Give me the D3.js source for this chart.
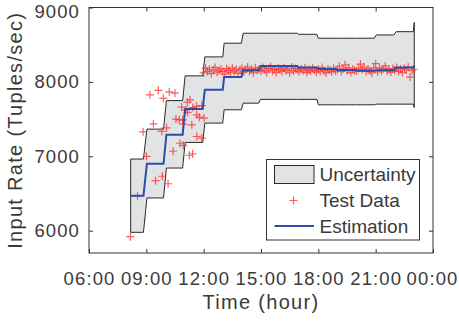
<!DOCTYPE html>
<html>
<head>
<meta charset="utf-8">
<script src="https://cdn.jsdelivr.net/npm/d3@7"></script>
<style>
  body { margin: 0; background: #fff; }
  text { font-family: "Liberation Sans", Arial, sans-serif; fill: #3a3a3a; }
</style>
</head>
<body>
<script>
// hourly segments of the estimate (start / end time in hours)
const segStart = [8.18, 9.03, 10.05, 11.03, 12.06, 13.07, 14.07, 14.97, 16.0, 16.97, 18.0, 19.0, 20.0, 21.03, 22.07];
const segEnd   = [8.85, 9.9, 10.9, 11.95, 13.0, 13.97, 14.88, 15.93, 16.9, 17.93, 18.93, 19.93, 20.93, 21.95, 22.97];
const estimation = [6470, 6900, 7290, 7635, 7895, 8065, 8157, 8215, 8215, 8195, 8172, 8160, 8150, 8155, 8192];
const upperBound = [6963, 7365, 7749, 8081, 8336, 8520, 8654, 8654, 8654, 8640, 8587, 8587, 8587, 8631, 8675];
const lowerBound = [5978, 6440, 6842, 7186, 7446, 7625, 7714, 7765, 7765, 7765, 7692, 7692, 7692, 7701, 7701];
// last sample
const tailTime = 23.02, tailEst = 8222, tailUpper = 8800, tailLower = 7655;

// test data, sparse morning part
const testTimeA = [8.17, 8.54, 8.83, 9.01, 9.19, 9.37, 9.48, 9.63, 9.81, 9.84, 9.89, 10.06, 10.14, 10.2, 10.4,
  10.5, 10.55, 10.73, 10.76, 10.85, 10.9, 10.94, 10.94, 11.08, 11.15, 11.16, 11.25, 11.29, 11.38, 11.42, 11.43,
  11.63, 11.64, 11.64, 11.77, 11.9, 11.9, 12.02];
const testValA = [5920, 6464, 7329, 7000, 7826, 7437, 6672, 7886, 7336, 6732, 7779, 7383, 6631, 7866, 7068,
  7849, 7500, 7490, 7175, 7661, 7490, 7148, 7433, 7624, 7728, 7591, 7014, 7759, 7423, 7034, 7655,
  7671, 7266, 7557, 7526, 7245, 7682, 7513];
// test data, dense part (every 0.1 h from 12:00)
const testTimeB = d3.range(111).map(i => 12 + i * 0.1);
const testValB = [
  8120, 8185, 8140, 8170, 8110, 8160, 8195, 8130, 8150, 8175,
  8140, 8105, 8180, 8155, 8125, 8190, 8145, 8170, 8115, 8160,
  8185, 8135, 8165, 8200, 8140, 8175, 8120, 8190, 8155, 8170,
  8145, 8195, 8160, 8130, 8180, 8205, 8150, 8170, 8125, 8185,
  8165, 8140, 8190, 8155, 8175, 8120, 8200, 8145, 8180, 8160,
  8135, 8175, 8150, 8190, 8125, 8165, 8145, 8185, 8155, 8130,
  8170, 8140, 8195, 8150, 8120, 8175, 8160, 8135, 8185, 8145,
  8165, 8210, 8140, 8175, 8230, 8150, 8190, 8125, 8170, 8155,
  8145, 8180, 8240, 8165, 8200, 8140, 8175, 8150, 8120, 8185,
  8245, 8135, 8190, 8150, 8175, 8215, 8145, 8170, 8130, 8180,
  8155, 8195, 8140, 8175, 8125, 8185, 8160, 8200, 8065, 8150,
  8170];

const xTicks = [6, 9, 12, 15, 18, 21, 24];
const xTickLabels = ["06:00", "09:00", "12:00", "15:00", "18:00", "21:00", "00:00"];
const yTicks = [6000, 7000, 8000, 9000];
const legendLabels = ["Uncertainty", "Test Data", "Estimation"];

const W = 459, H = 326;
const margin = {top: 7.5, left: 89, right: 26, bot: 73};

const svg = d3.select("body").append("svg")
  .attr("width", W)
  .attr("height", H);

const x = d3.scaleLinear().domain([6, 24]).range([margin.left, W - margin.right]);
const y = d3.scaleLinear().domain([5700, 9000]).range([H - margin.bot, margin.top]);

// step table
let steps = [];
segStart.forEach((s, i) => {
  steps.push({t: s, est: estimation[i], hi: upperBound[i], lo: lowerBound[i]});
  steps.push({t: segEnd[i], est: estimation[i], hi: upperBound[i], lo: lowerBound[i]});
});
steps.push({t: tailTime, est: tailEst, hi: tailUpper, lo: tailLower});

// uncertainty band
svg.append("path")
  .datum(steps)
  .attr("d", d3.area().x(d => x(d.t)).y0(d => y(d.lo)).y1(d => y(d.hi)))
  .attr("fill", "#e2e3e5")
  .attr("stroke", "#2a2a2a")
  .attr("stroke-width", 1);

// test data
const testData = testTimeA.map((t, i) => ({t: t, v: testValA[i]}))
  .concat(testTimeB.map((t, i) => ({t: t, v: testValB[i]})));

const cross = "M-4,0H4M0,-4V4";
svg.append("g")
  .selectAll("path")
  .data(testData)
  .enter()
  .append("path")
  .attr("d", cross)
  .attr("transform", d => `translate(${x(d.t)},${y(d.v)})`)
  .attr("stroke", "#ff2a2a")
  .attr("stroke-opacity", 0.75)
  .attr("stroke-width", 1.2)
  .attr("fill", "none");

// estimation
svg.append("path")
  .datum(steps)
  .attr("d", d3.line().x(d => x(d.t)).y(d => y(d.est)))
  .attr("fill", "none")
  .attr("stroke", "#2b4ea6")
  .attr("stroke-width", 2);

// axes (box with ticks on all four sides)
const x0 = x.range()[0], x1 = x.range()[1], y0 = y.range()[0], y1 = y.range()[1];
svg.append("rect")
  .attr("x", x0).attr("y", y1)
  .attr("width", x1 - x0).attr("height", y0 - y1)
  .attr("fill", "none")
  .attr("stroke", "#333")
  .attr("stroke-width", 1);

const xAxisG = svg.append("g")
  .attr("transform", `translate(0,${y0})`)
  .call(d3.axisBottom(x).tickValues(xTicks).tickSize(-4).tickPadding(19)
    .tickFormat((d, i) => xTickLabels[i]))
  .call(g => g.select(".domain").remove());
svg.append("g")
  .attr("transform", `translate(0,${y1})`)
  .call(d3.axisTop(x).tickValues(xTicks.slice(1, -1)).tickSize(-4).tickFormat(""))
  .call(g => g.select(".domain").remove());
const yAxisG = svg.append("g")
  .attr("transform", `translate(${x0},0)`)
  .call(d3.axisLeft(y).tickValues(yTicks).tickSize(-4).tickPadding(9).tickFormat(d3.format("d")))
  .call(g => g.select(".domain").remove());
svg.append("g")
  .attr("transform", `translate(${x1},0)`)
  .call(d3.axisRight(y).tickValues(yTicks.slice(0, -1)).tickSize(-4).tickFormat(""))
  .call(g => g.select(".domain").remove());

svg.selectAll(".tick line").attr("stroke", "#333");
svg.selectAll(".tick text")
  .style("font-size", "18.5px")
  .style("letter-spacing", "1.1px")
  .attr("fill", "#3a3a3a")
  .style("font-family", "'Liberation Sans', Arial, sans-serif");
// end labels kept inside the figure, as in the original
yAxisG.selectAll(".tick text").filter(d => d === 9000).attr("dy", "0.55em");
xAxisG.selectAll(".tick text").filter(d => d === 24).attr("dx", -1);

// axis titles
svg.append("text")
  .attr("x", (x0 + x1) / 2)
  .attr("y", 309)
  .attr("text-anchor", "middle")
  .style("font-size", "20px")
  .style("letter-spacing", "1.3px")
  .text("Time (hour)");

svg.append("text")
  .attr("transform", `translate(22,${(y0 + y1) / 2}) rotate(-90)`)
  .attr("text-anchor", "middle")
  .style("font-size", "20px")
  .style("letter-spacing", "1.3px")
  .text("Input Rate (Tuples/sec)");

// legend
const lg = svg.append("g").attr("transform", "translate(266.5,159.5)");
lg.append("rect")
  .attr("width", 153).attr("height", 80.5)
  .attr("fill", "#fff")
  .attr("stroke", "#333");
lg.append("rect")
  .attr("x", 8).attr("y", 6)
  .attr("width", 39.5).attr("height", 18)
  .attr("fill", "#e2e3e5")
  .attr("stroke", "#2a2a2a");
lg.append("path")
  .attr("d", cross)
  .attr("transform", "translate(27,41)")
  .attr("stroke", "#ff2a2a")
  .attr("stroke-opacity", 0.75)
  .attr("stroke-width", 1.2);
lg.append("line")
  .attr("x1", 8).attr("x2", 47.5)
  .attr("y1", 66.5).attr("y2", 66.5)
  .attr("stroke", "#2b4ea6")
  .attr("stroke-width", 2);
lg.selectAll(".lbl")
  .data(legendLabels)
  .enter()
  .append("text")
  .attr("class", "lbl")
  .attr("x", 53)
  .attr("y", (d, i) => 21.5 + i * 26)
  .style("font-size", "19px")
  .text(d => d);
</script>
</body>
</html>
